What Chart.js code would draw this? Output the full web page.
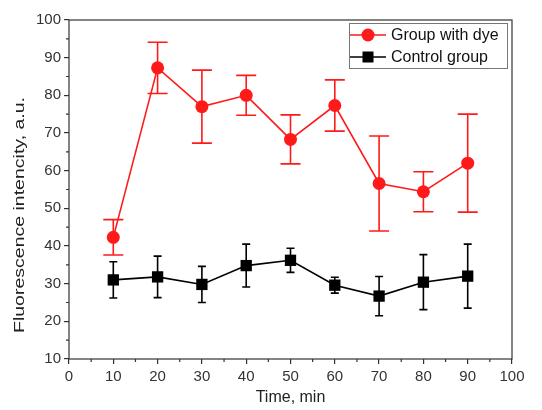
<!DOCTYPE html>
<html>
<head>
<meta charset="utf-8">
<script src="https://cdn.jsdelivr.net/npm/chart.js@4.4.0/dist/chart.umd.min.js"></script>
<style>
  html, body { margin: 0; padding: 0; background: #fff; }
  #wrap { width: 542px; height: 410px; position: relative; }
</style>
</head>
<body>
<div id="wrap"><canvas id="chartCanvas"></canvas></div>
<script>
// time points, min
const times = [10, 20, 30, 40, 50, 60, 70, 80, 90];

// Group with dye: mean and error (half-length of bar)
const dyeMean = [42.3, 87.3, 77.0, 80.0, 68.3, 77.3, 56.6, 54.4, 62.0];
const dyeErr  = [4.7, 6.8, 9.7, 5.3, 6.5, 6.8, 12.6, 5.3, 13.0];

// Control group
const ctrlMean = [31.0, 31.8, 29.8, 34.8, 36.2, 29.6, 26.7, 30.4, 32.0];
const ctrlErr  = [4.8, 5.5, 4.8, 5.7, 3.2, 2.1, 5.2, 7.3, 8.5];

const seriesNames = ['Group with dye', 'Control group'];
const xTitle = 'Time, min';
const yTitle = 'Fluorescence intencity, a.u.';

const RED = '#ff1a1a';
const BLACK = '#000000';
const AXIS = '#333333';
const FONT = '"Liberation Sans", Arial, sans-serif';

const ctx = document.getElementById('chartCanvas').getContext('2d');

// error bars, drawn under the markers
const errorBars = {
  id: 'errorBars',
  beforeDatasetsDraw(chart) {
    const c = chart.ctx;
    const xs = chart.scales.x, ys = chart.scales.y;
    const sets = [
      { mean: ctrlMean, err: ctrlErr, color: BLACK, cap: 4 },
      { mean: dyeMean, err: dyeErr, color: RED, cap: 10 }
    ];
    c.save();
    c.lineWidth = 1.6;
    sets.forEach(s => {
      c.strokeStyle = s.color;
      times.forEach((t, i) => {
        const px = xs.getPixelForValue(t);
        const hi = ys.getPixelForValue(s.mean[i] + s.err[i]);
        const lo = ys.getPixelForValue(s.mean[i] - s.err[i]);
        c.beginPath();
        c.moveTo(px, hi); c.lineTo(px, lo);
        c.moveTo(px - s.cap, hi); c.lineTo(px + s.cap, hi);
        c.moveTo(px - s.cap, lo); c.lineTo(px + s.cap, lo);
        c.stroke();
      });
    });
    c.restore();
  }
};

// frame, minor ticks, y title and legend box
const frameAndLegend = {
  id: 'frameAndLegend',
  afterDraw(chart) {
    const c = chart.ctx;
    const a = chart.chartArea;
    const xs = chart.scales.x, ys = chart.scales.y;
    c.save();
    c.strokeStyle = AXIS;
    c.lineWidth = 1.2;
    c.strokeRect(a.left, a.top, a.right - a.left, a.bottom - a.top);
    // minor ticks
    c.beginPath();
    for (let v = 5; v < 100; v += 10) {
      const px = xs.getPixelForValue(v);
      c.moveTo(px, a.bottom); c.lineTo(px, a.bottom + 3);
    }
    for (let v = 15; v < 100; v += 10) {
      const py = ys.getPixelForValue(v);
      c.moveTo(a.left, py); c.lineTo(a.left - 3, py);
    }
    c.stroke();

    // y title, stretched along its length like the original
    c.save();
    c.translate(19.5, 215);
    c.rotate(-Math.PI / 2);
    c.font = '15px ' + FONT;
    const tw = c.measureText(yTitle).width;
    c.scale(236 / tw, 1);
    c.fillStyle = '#222';
    c.textAlign = 'center';
    c.textBaseline = 'middle';
    c.fillText(yTitle, 0, 0);
    c.restore();

    // legend
    const bx = 349, by = 23, bw = 158, bh = 45;
    c.fillStyle = '#fff';
    c.fillRect(bx, by, bw, bh);
    c.strokeStyle = '#777';
    c.lineWidth = 1;
    c.strokeRect(bx + 0.5, by + 0.5, bw, bh);
    const rows = [
      { label: seriesNames[0], color: RED, y: by + 12, shape: 'circle' },
      { label: seriesNames[1], color: BLACK, y: by + 34, shape: 'square' }
    ];
    rows.forEach(r => {
      c.strokeStyle = r.color;
      c.lineWidth = 1.6;
      c.beginPath();
      c.moveTo(bx + 1, r.y); c.lineTo(bx + 37, r.y);
      c.stroke();
      c.fillStyle = r.color;
      const mx = bx + 19;
      if (r.shape === 'circle') {
        c.beginPath(); c.arc(mx, r.y, 6.5, 0, Math.PI * 2); c.fill();
      } else {
        c.fillRect(mx - 5.5, r.y - 5.5, 11, 11);
      }
      c.fillStyle = '#111';
      c.font = '16px ' + FONT;
      c.textBaseline = 'middle';
      c.textAlign = 'left';
      c.fillText(r.label, bx + 42, r.y + 1);
    });
    c.restore();
  }
};

new Chart(ctx, {
  type: 'line',
  data: {
    datasets: [
      {
        label: seriesNames[0],
        data: times.map((t, i) => ({ x: t, y: dyeMean[i] })),
        borderColor: RED,
        backgroundColor: RED,
        borderWidth: 1.6,
        pointStyle: 'circle',
        pointRadius: 6.5,
        pointBorderWidth: 0,
        tension: 0
      },
      {
        label: seriesNames[1],
        data: times.map((t, i) => ({ x: t, y: ctrlMean[i] })),
        borderColor: BLACK,
        backgroundColor: BLACK,
        borderWidth: 1.6,
        pointStyle: 'rect',
        pointRadius: 8,
        pointBorderWidth: 0,
        tension: 0
      }
    ]
  },
  options: {
    responsive: true,
    maintainAspectRatio: false,
    animation: false,
    layout: { padding: { left: 0, top: 20, right: 30, bottom: 0 } },
    plugins: {
      legend: { display: false },
      tooltip: { enabled: false }
    },
    scales: {
      x: {
        type: 'linear',
        min: 0, max: 100,
        afterFit(scale) { scale.height = 51; },
        ticks: { stepSize: 10, color: AXIS, font: { family: FONT, size: 15 }, padding: 4, maxRotation: 0 },
        grid: { drawOnChartArea: false, drawTicks: true, tickLength: 5, color: AXIS, lineWidth: 1.2 },
        border: { display: false },
        title: { display: true, text: xTitle, color: '#222', font: { family: FONT, size: 16 }, padding: { top: 4, bottom: 3 } }
      },
      y: {
        min: 10, max: 100,
        afterFit(scale) { scale.width = 69; },
        ticks: { stepSize: 10, color: AXIS, font: { family: FONT, size: 15 }, padding: 3 },
        grid: { drawOnChartArea: false, drawTicks: true, tickLength: 5, color: AXIS, lineWidth: 1.2 },
        border: { display: false },
        title: { display: false }
      }
    }
  },
  plugins: [errorBars, frameAndLegend]
});
</script>
</body>
</html>
